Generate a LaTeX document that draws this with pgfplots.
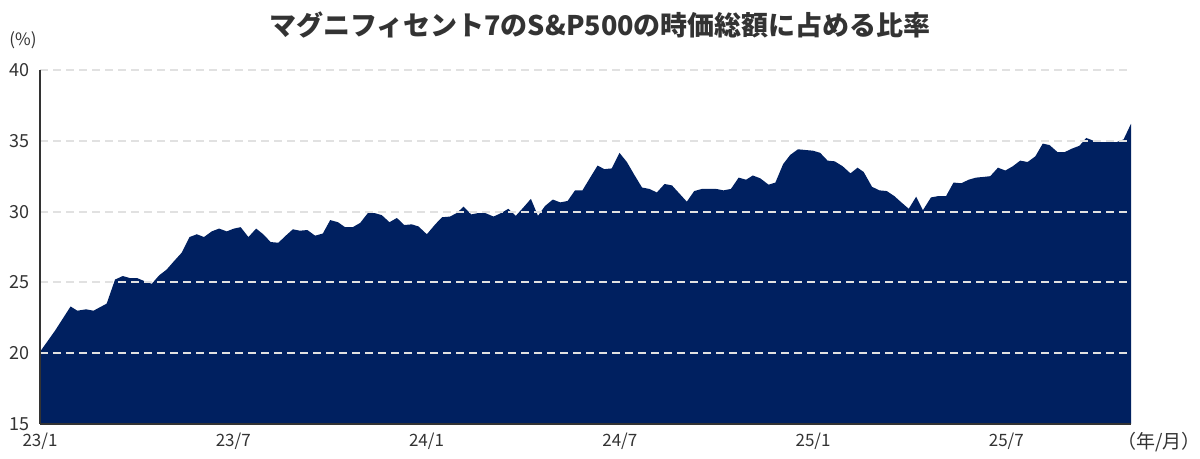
\documentclass[border=0pt]{standalone}
\usepackage{fontspec}
\setmainfont{Noto Sans CJK JP}
\usepackage{pgfplots}
\pgfplotsset{compat=1.18}
\definecolor{navy}{RGB}{0,32,96}
\definecolor{txt}{RGB}{51,51,51}
\definecolor{gridc}{RGB}{225,225,225}

% share of S&P 500 market cap, x in months from 2023/1
\pgfplotstableread{
m v
0 20.1
0.47 21.6
0.95 23.3
1.16 23.0
1.43 23.1
1.66 23.0
2.07 23.5
2.33 25.2
2.57 25.45
2.80 25.3
3.02 25.3
3.23 25.1
3.47 24.9
3.70 25.5
3.93 25.9
4.16 26.5
4.40 27.1
4.64 28.2
4.87 28.4
5.09 28.2
5.33 28.6
5.56 28.8
5.80 28.6
6.02 28.8
6.23 28.9
6.47 28.2
6.71 28.8
6.93 28.4
7.16 27.85
7.40 27.8
7.63 28.3
7.85 28.75
8.07 28.65
8.30 28.7
8.54 28.3
8.78 28.45
9.01 29.4
9.25 29.25
9.47 28.9
9.71 28.9
9.94 29.2
10.18 29.9
10.38 29.9
10.61 29.75
10.85 29.25
11.08 29.55
11.31 29.05
11.54 29.1
11.75 28.95
12.01 28.4
12.27 29.1
12.48 29.6
12.73 29.65
12.94 29.9
13.15 30.35
13.39 29.8
13.61 29.9
13.82 29.9
14.08 29.65
14.32 29.9
14.54 30.2
14.77 29.7
15.01 30.3
15.24 30.9
15.46 29.7
15.68 30.4
15.92 30.85
16.15 30.65
16.38 30.75
16.61 31.5
16.84 31.5
17.08 32.4
17.31 33.25
17.52 33.0
17.75 33.05
17.99 34.15
18.22 33.5
18.45 32.6
18.69 31.7
18.92 31.6
19.15 31.35
19.39 31.95
19.62 31.85
19.84 31.3
20.08 30.7
20.31 31.45
20.55 31.6
20.78 31.6
20.99 31.6
21.22 31.5
21.45 31.6
21.69 32.4
21.92 32.25
22.13 32.55
22.36 32.35
22.62 31.9
22.83 32.05
23.07 33.35
23.29 34.0
23.53 34.4
23.76 34.35
24.00 34.3
24.22 34.15
24.45 33.6
24.67 33.55
24.92 33.2
25.16 32.7
25.38 33.1
25.57 32.8
25.83 31.75
26.06 31.5
26.29 31.45
26.52 31.1
26.74 30.65
26.97 30.2
27.20 31.05
27.41 30.1
27.66 31.0
27.90 31.1
28.13 31.1
28.36 32.05
28.60 32.0
28.83 32.25
29.06 32.4
29.30 32.45
29.50 32.5
29.74 33.1
29.97 32.9
30.20 33.2
30.43 33.6
30.66 33.5
30.90 33.9
31.13 34.8
31.34 34.7
31.59 34.2
31.81 34.2
32.04 34.45
32.27 34.65
32.48 35.2
32.71 35.0
32.94 34.9
33.18 34.9
33.42 34.9
33.64 35.1
33.87 36.2
}\share

\begin{document}
\begin{tikzpicture}
\path[use as bounding box] (0,0) rectangle (600pt,229.5pt);
\begin{axis}[
    at={(20pt,17.5pt)}, anchor=south west,
    scale only axis,
    width=545.5pt, height=177pt,
    xmin=0, xmax=33.87,
    ymin=15, ymax=40,
    axis x line=bottom, axis y line=left,
    axis line style={-, txt, line width=0.8pt},
    axis on top,
    xtick={0,6,12,18,24,30},
    xticklabels={23/1,23/7,24/1,24/7,25/1,25/7},
    ytick={15,20,25,30,35,40},
    major tick length=0pt,
    ymajorgrids=true,
    grid style={gridc, line width=1pt, dash pattern=on 4pt off 2.5pt},
    /pgf/number format/assume math mode=true,
    ticklabel style={font=\fontsize{9pt}{10pt}\selectfont, text=txt},
    xticklabel style={anchor=base, yshift=-11.5pt, font=\fontsize{8.5pt}{10pt}\selectfont},
    yticklabel style={anchor=east, inner sep=0pt, xshift=-5pt},
]
\addplot[fill=navy, draw=none] table[x=m, y=v] {\share} \closedcycle;
\end{axis}
\node[text=txt, font=\fontsize{13.5pt}{16pt}\selectfont\bfseries] at (300pt,217pt) {マグニフィセント7のS\&P500の時価総額に占める比率};
\node[text=txt, font=\fontsize{8.5pt}{10pt}\selectfont] at (11.5pt,209.5pt) {(\%)};
\node[text=txt, font=\fontsize{9.5pt}{11pt}\selectfont, anchor=base] at (579.5pt,5pt) {（年/月）};
\end{tikzpicture}
\end{document}
